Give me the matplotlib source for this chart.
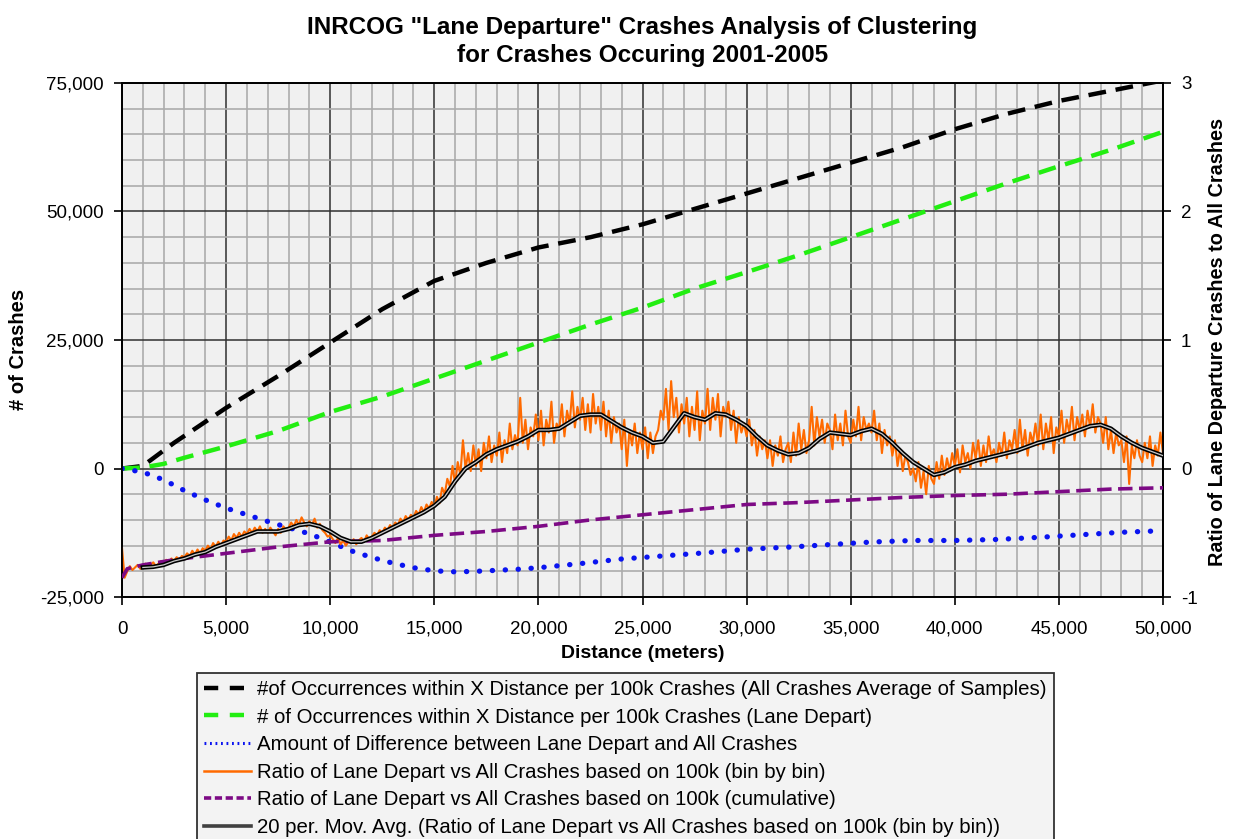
import numpy as np
import matplotlib
matplotlib.use("Agg")
from matplotlib import pyplot as plt
from matplotlib.lines import Line2D
from matplotlib.ticker import MultipleLocator, FuncFormatter
import matplotlib.patheffects as pe

plt.rcParams['font.family'] = ['Liberation Sans', 'DejaVu Sans']
plt.rcParams['axes.unicode_minus'] = False

# cumulative occurrences per 100k crashes (left axis)
all_x = [0, 1000, 2500, 5000, 7500, 10000, 12500, 15000, 17500, 20000, 22500, 25000,
         27500, 30000, 32500, 35000, 37500, 40000, 42500, 45000, 47500, 50000]
all_avg = [0, 500, 5000, 11800, 18000, 24500, 31000, 36500, 40000, 43000, 45000, 47500,
           50500, 53500, 56500, 59500, 62500, 66000, 69000, 71500, 73500, 75500]

lane_x = [0, 1000, 2000, 3000, 5000, 7500, 10000, 12500, 15000, 17500, 20000, 22500, 25000,
          27500, 30000, 32500, 35000, 37500, 40000, 42500, 45000, 47500, 50000]
lane_dep = [0, 200, 900, 2100, 4300, 7300, 11000, 14000, 17500, 21000, 24500, 28000, 31300,
            35000, 38200, 41500, 45000, 48500, 52000, 55500, 58800, 62000, 65500]

diff_x = [0, 1000, 2000, 3000, 4000, 5000, 6000, 7000, 8000, 9000, 10000, 11000, 12000,
          13000, 14000, 15000, 16000, 17000, 18000, 19000, 20000, 22000, 24000, 26000,
          28000, 30000, 32000, 34000, 36000, 38000, 40000, 42000, 44000, 46000, 48000, 50000]
diff = [0, -700, -2200, -4300, -6100, -7700, -9000, -10300, -11500, -12700, -14300, -16000,
        -17300, -18400, -19300, -19900, -20100, -20000, -19800, -19600, -19300, -18500,
        -17600, -17000, -16400, -15700, -15300, -14800, -14300, -14000, -14000, -13800,
        -13400, -12900, -12400, -12100]

# ratios (right axis)
cum_x = [0, 250, 1000, 2500, 5000, 7500, 10000, 12500, 15000, 17500, 20000, 22500, 25000,
         27500, 30000, 32500, 35000, 37500, 40000, 42500, 45000, 47500, 50000]
cum_ratio = [-0.85, -0.78, -0.75, -0.71, -0.66, -0.61, -0.57, -0.56, -0.52, -0.49, -0.45,
             -0.40, -0.36, -0.32, -0.28, -0.265, -0.245, -0.225, -0.21, -0.20, -0.18, -0.16, -0.15]

# bin by bin ratio, one value every 125 m
bin_x = list(range(0, 50001, 125))
bin_ratio = [
    -0.62, -0.85, -0.80, -0.76, -0.79, -0.77, -0.75, -0.78,
    -0.76, -0.74, -0.77, -0.75, -0.73, -0.76, -0.74, -0.72,
    -0.74, -0.71, -0.73, -0.70, -0.72, -0.69, -0.71, -0.68,
    -0.69, -0.66, -0.68, -0.64, -0.67, -0.63, -0.66, -0.62,
    -0.64, -0.60, -0.63, -0.58, -0.61, -0.57, -0.60, -0.56,
    -0.57, -0.53, -0.56, -0.51, -0.54, -0.50, -0.53, -0.49,
    -0.51, -0.47, -0.50, -0.46, -0.49, -0.45, -0.50, -0.47,
    -0.50, -0.46, -0.49, -0.52, -0.47, -0.50, -0.45, -0.48,
    -0.46, -0.42, -0.45, -0.40, -0.44, -0.38, -0.42, -0.45,
    -0.41, -0.44, -0.39, -0.46, -0.43, -0.48, -0.50, -0.53,
    -0.52, -0.55, -0.58, -0.54, -0.59, -0.56, -0.60, -0.57,
    -0.58, -0.55, -0.59, -0.56, -0.54, -0.57, -0.52, -0.55,
    -0.53, -0.50, -0.52, -0.48, -0.50, -0.46, -0.48, -0.44,
    -0.46, -0.42, -0.44, -0.39, -0.42, -0.37, -0.40, -0.36,
    -0.38, -0.33, -0.36, -0.30, -0.34, -0.28, -0.31, -0.26,
    -0.30, -0.22, -0.27, -0.15, -0.20, -0.08, -0.14, 0.02,
    -0.12, 0.05, -0.05, 0.22, 0.00, 0.12, -0.02, 0.18,
    0.02, 0.15, -0.02, 0.20, 0.08, 0.25, 0.05, 0.18,
    0.10, 0.28, 0.05, 0.22, 0.12, 0.35, 0.15, 0.26,
    0.18, 0.55, 0.20, 0.38, 0.15, 0.32, 0.25, 0.42,
    0.22, 0.45, 0.18, 0.38, 0.28, 0.52, 0.20, 0.35,
    0.30, 0.50, 0.25, 0.45, 0.35, 0.60, 0.32, 0.48,
    0.38, 0.55, 0.30, 0.50, 0.28, 0.58, 0.35, 0.48,
    0.30, 0.52, 0.25, 0.45, 0.20, 0.40, 0.28, 0.35,
    0.15, 0.38, 0.02, 0.30, 0.18, 0.35, 0.12, 0.28,
    0.15, 0.32, 0.08, 0.28, 0.12, 0.25, 0.30, 0.45,
    0.38, 0.62, 0.30, 0.68, 0.40, 0.55, 0.28, 0.50,
    0.35, 0.55, 0.25, 0.48, 0.30, 0.60, 0.22, 0.45,
    0.35, 0.62, 0.30, 0.55, 0.38, 0.58, 0.25, 0.48,
    0.40, 0.52, 0.30, 0.45, 0.20, 0.40, 0.28, 0.35,
    0.25, 0.38, 0.18, 0.30, 0.10, 0.25, 0.15, 0.22,
    0.08, 0.22, 0.02, 0.18, 0.10, 0.25, 0.05, 0.15,
    0.20, 0.05, 0.28, 0.10, 0.35, 0.15, 0.30, 0.12,
    0.22, 0.48, 0.18, 0.40, 0.25, 0.38, 0.20, 0.35,
    0.30, 0.15, 0.42, 0.22, 0.35, 0.18, 0.45, 0.25,
    0.20, 0.38, 0.25, 0.48, 0.22, 0.40, 0.30, 0.35,
    0.28, 0.45, 0.22, 0.35, 0.12, 0.30, 0.18, 0.25,
    0.10, 0.22, 0.02, 0.15, -0.02, 0.10, 0.05, -0.05,
    0.00, -0.10, 0.05, -0.15, -0.02, -0.20, 0.02, -0.08,
    -0.12, 0.05, -0.08, 0.10, -0.05, 0.08, -0.02, 0.12,
    0.02, 0.15, -0.03, 0.18, 0.05, 0.12, 0.00, 0.20,
    0.08, 0.22, 0.02, 0.18, 0.05, 0.25, 0.10, 0.15,
    0.05, 0.20, 0.10, 0.28, 0.08, 0.22, 0.15, 0.30,
    0.12, 0.38, 0.15, 0.30, 0.10, 0.28, 0.20, 0.35,
    0.18, 0.42, 0.15, 0.35, 0.22, 0.40, 0.12, 0.32,
    0.25, 0.45, 0.20, 0.38, 0.28, 0.48, 0.22, 0.40,
    0.30, 0.42, 0.25, 0.45, 0.32, 0.50, 0.28, 0.40,
    0.35, 0.20, 0.40, 0.15, 0.30, 0.12, 0.28, 0.18,
    0.22, 0.05, 0.25, -0.12, 0.18, 0.08, 0.22, 0.10,
    0.05, 0.20, 0.08, 0.25, 0.02, 0.18, 0.10, 0.28,
    0.12,
]

# 20 period moving average, read every 500 m
ma_x = list(range(1000, 50001, 500))
mov_avg = [
    -0.77, -0.765, -0.75, -0.72, -0.70, -0.67, -0.65, -0.61, -0.58, -0.55,
    -0.52, -0.49, -0.49, -0.49, -0.47, -0.44, -0.43, -0.45, -0.49, -0.54,
    -0.57, -0.57, -0.54, -0.50, -0.46, -0.42, -0.38, -0.34, -0.29, -0.22,
    -0.10, 0.00, 0.05, 0.11, 0.15, 0.18, 0.21, 0.25, 0.30, 0.30,
    0.31, 0.36, 0.41, 0.42, 0.42, 0.37, 0.32, 0.28, 0.25, 0.20,
    0.21, 0.32, 0.43, 0.40, 0.38, 0.43, 0.42, 0.38, 0.33, 0.25,
    0.18, 0.14, 0.11, 0.12, 0.16, 0.23, 0.28, 0.27, 0.26, 0.29,
    0.31, 0.27, 0.20, 0.12, 0.05, 0.00, -0.05, -0.03, 0.01, 0.03,
    0.06, 0.08, 0.10, 0.12, 0.14, 0.17, 0.20, 0.22, 0.24, 0.27,
    0.30, 0.33, 0.34, 0.31, 0.25, 0.20, 0.16, 0.13, 0.10,
]

labels = [
    "#of Occurrences within X Distance per 100k Crashes (All Crashes Average of Samples)",
    "# of Occurrences within X Distance per 100k Crashes (Lane Depart)",
    "Amount of Difference between Lane Depart and All Crashes",
    "Ratio of Lane Depart vs All Crashes based on 100k (bin by bin)",
    "Ratio of Lane Depart vs All Crashes based on 100k (cumulative)",
    "20 per. Mov. Avg. (Ratio of Lane Depart vs All Crashes based on 100k (bin by bin))",
]

fig = plt.figure(figsize=(12.35, 8.39), dpi=100)
ax = fig.add_axes([0.0988, 0.2884, 0.8429, 0.6127])
ax.set_facecolor("#f0f0f0")
ax2 = ax.twinx()

# grid
ax.xaxis.set_minor_locator(MultipleLocator(1000))
ax.yaxis.set_minor_locator(MultipleLocator(5000))
ax.grid(which="minor", color="#acacac", linewidth=1.2)
ax.grid(which="major", color="#303030", linewidth=1.1)
ax.set_axisbelow(True)

ax.plot(all_x, all_avg, color="black", lw=3.2, dashes=(4, 2.2), zorder=3)
ax.plot(lane_x, lane_dep, color="#22ee11", lw=3.2, dashes=(4, 2.2), zorder=3)
ax.plot(diff_x, diff, color="#0a14f0", lw=3.8, dashes=(0.05, 2.4), dash_capstyle="round", zorder=3)

ax2.plot(bin_x, bin_ratio, color="#ff6a00", lw=1.5, zorder=2)
ax2.plot(cum_x, cum_ratio, color="#7d0a85", lw=2.6, dashes=(4, 1.8), zorder=3)
ax2.plot(ma_x, mov_avg, color="#c8c8c8", lw=0.9, zorder=4,
         path_effects=[pe.Stroke(linewidth=3.2, foreground="black"), pe.Normal()])

ax.set_xlim(0, 50000)
ax.set_ylim(-25000, 75000)
ax2.set_ylim(-1, 3)
ax.xaxis.set_major_locator(MultipleLocator(5000))
ax.yaxis.set_major_locator(MultipleLocator(25000))
ax2.yaxis.set_major_locator(MultipleLocator(1))
fmt = FuncFormatter(lambda v, p: f"{int(v):,}")
ax.xaxis.set_major_formatter(fmt)
ax.yaxis.set_major_formatter(fmt)

for a in (ax, ax2):
    a.tick_params(which="major", direction="out", length=6, width=1.2, labelsize=13.5, pad=7)
    a.tick_params(which="minor", length=0)
    for s in a.spines.values():
        s.set_linewidth(1.3)
        s.set_color("black")
ax.tick_params(axis="x", pad=11)

ax.set_xlabel("Distance (meters)", fontsize=14, fontweight="bold", labelpad=5)
fig.text(0.0146, 0.583, "# of Crashes", rotation=90, fontsize=14.5, fontweight="bold",
         ha="center", va="center")
fig.text(0.986, 0.592, "Ratio of Lane Departure Crashes to All Crashes", rotation=90,
         fontsize=14.3, fontweight="bold", ha="center", va="center")

fig.suptitle('INRCOG "Lane Departure" Crashes Analysis of Clustering\nfor Crashes Occuring 2001-2005',
             fontsize=17.5, fontweight="bold", x=0.52, y=0.981, linespacing=1.3)

handles = [
    Line2D([], [], color="black", lw=3.2, dashes=(3.2, 2.6)),
    Line2D([], [], color="#22ee11", lw=3.2, dashes=(3.2, 2.6)),
    Line2D([], [], color="#0a14f0", lw=2.2, dashes=(0.6, 1.2)),
    Line2D([], [], color="#ff6a00", lw=1.8),
    Line2D([], [], color="#7d0a85", lw=2.6, dashes=(2, 1)),
    Line2D([], [], color="#404040", lw=2.6),
]
leg = fig.legend(handles, labels, loc="upper left", bbox_to_anchor=(0.1595, 0.198),
                 borderaxespad=0, fontsize=14.7, frameon=True, fancybox=False,
                 handlelength=2.3, handletextpad=0.3, labelspacing=0.42, borderpad=0.35)
leg.get_frame().set_facecolor("#f0f0f0")
leg.get_frame().set_edgecolor("black")
leg.get_frame().set_linewidth(1.3)

fig.savefig("out.png", dpi=100)
